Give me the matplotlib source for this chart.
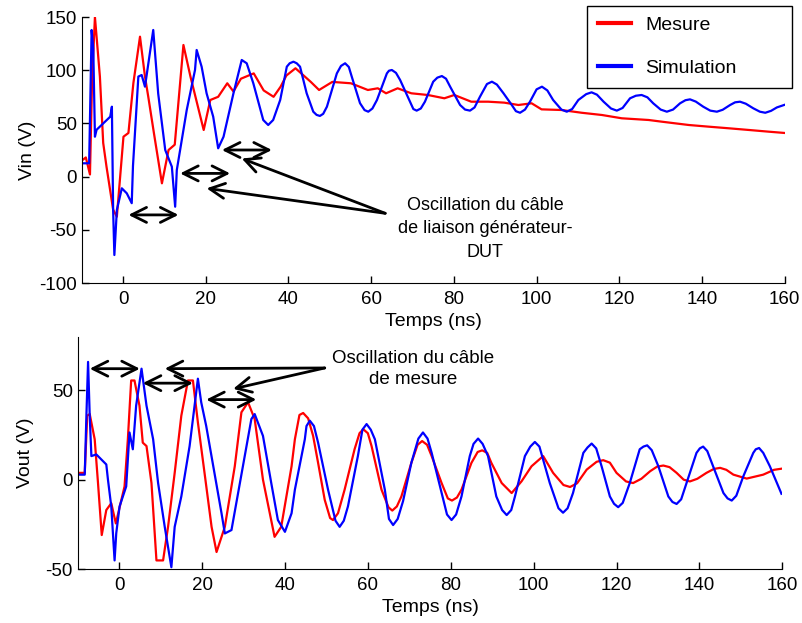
import matplotlib
matplotlib.use("Agg")
import matplotlib.pyplot as plt

plt.rcParams['font.family'] = ['Liberation Sans', 'DejaVu Sans']
plt.rcParams['font.size'] = 13.5
plt.rcParams['axes.unicode_minus'] = False

# ---- top plot: Vin ----
vin_mes_t = [-10, -9, -8, -7.5, -6.8, -5.6, -4.8, -4, -2.4, -1.5, 0.1, 1.3, 2.5, 4.1, 5.3, 6.1,
             7.5, 9.4, 11, 12.5, 14.6, 16.3, 19.5, 21.1, 23, 25.2, 26.7, 28.5, 31.6, 34, 36.4, 38.1,
             39.5, 41.7, 45.4, 47.4, 50.6, 55.1, 59.2, 61.6, 63.6, 66.4, 69.7, 73.7, 77.7, 80.1,
             84.2, 88.3, 92.2, 95.6, 98.8, 101.2, 106, 110.9, 115.8, 120.6, 127.1, 130.3, 136.8,
             141.7, 146.5, 151.4, 156.2, 160]
vin_mes_v = [15, 18, 2, 90, 150, 94, 31.6, 9.3, -31, -37.7, 37.5, 41, 88, 131.5, 94, 75,
             40, -6.3, 25, 30, 123.7, 94, 43.8, 72, 75, 87.7, 80, 92, 97, 81, 75, 84.5,
             95, 101.8, 89, 81.4, 89, 87.7, 81.4, 83, 78.3, 83, 78.3, 76.7, 73.6, 76.7,
             70.4, 70.4, 69.5, 67.3, 68.9, 63.2, 62.6, 60, 57.9, 54.8, 53.2, 51.6, 48.5,
             46.9, 45.4, 43.8, 42.2, 41]

vin_sim_t = [-10, -8.2, -7.6, -7.2, -6.8, -6.4, -3.1, -2.7, -2.4, -2.1, -1.5, -0.3, 0.9, 2.1, 2.4,
             3.7, 4.5, 5.3, 7.3, 8.5, 10.2, 11.8, 12.6, 13, 15.4, 17.4, 17.8, 19, 20.2, 21.8, 23,
             24.3, 26.7, 28.7, 29.9, 31.5, 33.9, 35.1, 36.3,
             38, 39.6, 40.3, 41.2, 42, 42.8, 44.4, 46, 46.8, 47.6, 48.4, 49.3, 51.7, 52.7, 53.7,
             54.6, 55.3, 57.3, 58.4, 59.3, 60.3, 61.4, 63.8, 64.3, 65, 66, 67, 69.4, 70.2, 71,
             72, 73, 75, 76, 77.1, 78.1, 79.1, 81.5, 82.7, 83.9, 85, 86.3, 88, 89.2, 90.4, 92,
             94, 95, 96, 97.2, 98.4, 100, 101.3, 102.6, 104, 106, 107.3, 108.6, 110.1, 112,
             113.3, 114.6, 116.2, 118, 119.4, 120.8, 122.6, 124, 125.4, 126.8, 128.2, 130,
             131.5, 133, 134.7, 136, 137.1, 138.5, 140.3, 142, 143.6, 145, 146.8, 148, 149.2,
             150.6, 152.4, 154, 155.3, 156.7, 158.1, 160]
vin_sim_v = [12.5, 12.5, 137.8, 120, 37.5, 44, 56.3, 65.7, -31.4, -73.7, -31.4, -11, -15.7, -25, 10,
             94, 95.5, 84.5, 137.8, 78, 25, 9.3, -28.3, 6.2, 62.6, 100.2, 119, 103.3, 78.3, 56.3, 26.6,
             37.5, 78.3, 109.6, 106.5, 87.7, 53.2, 48.5, 53.2,
             72, 103.3, 106.5, 108, 106.5, 103.3, 78.3, 61, 58, 57, 59, 65.7, 97, 104, 106.5,
             103, 94, 69, 62.5, 61, 64, 72, 97, 99.5, 100.2, 97.5, 90.8, 70.4, 63.5, 62,
             64, 70.4, 89.2, 93, 94.5, 92, 84.5, 67.3, 63, 62, 65, 75, 87, 89.2, 86.5, 78.3,
             67.3, 61.5, 60, 63, 70.4, 82, 84.5, 81, 72, 63, 61, 63.5, 72, 77.5,
             79.2, 77, 70.4, 64, 62, 64.5, 73.6, 76, 76.7, 74.5, 68.9, 63,
             61, 63, 68.9, 71.8, 72.6, 70.5, 65.7, 62, 61, 62.8, 67.3, 69.8, 70.4,
             68.5, 64.2, 61, 60, 61.8, 65, 67.5]

# ---- bottom plot: Vout ----
vout_mes_t = [-10, -8.3, -7.7, -7.1, -5.9, -5.1, -4.2, -3.1, -1.9, -0.8, 1.3, 2.1, 2.9, 3.7, 4.9,
              5.7, 6.6, 7.8, 9, 10.6, 11.8, 13.4, 15, 16.6, 17.8, 19, 20.6, 22.3, 23.5, 25.5,
              27.9, 29.5, 31.1, 32.7, 34.7, 37.5, 39.1, 41.6,
              42.4, 43.5, 44.4, 45.6, 46.8, 48, 49.6, 50.9, 51.6, 52.8, 54.4, 56.8, 58, 58.9, 60,
              60.9, 63.3, 65, 65.9, 67, 68.1, 70.5, 72, 73.1, 74.3, 75.4, 77.8, 79.3, 80.3, 81.5,
              82.6, 85, 86.5, 87.6, 88.8, 89.8, 92.3, 94.7, 97.1, 99.5, 102.3,
              104.7, 107.2, 108.8, 110.5, 112.8, 115.2, 116.8, 118.4, 120, 122.3, 124, 126, 128.1,
              129.8, 131.3, 132.8, 134.5, 136.2, 137.7, 139.5, 141.7, 143.5, 145, 146.5, 148.2,
              151.4, 155.4, 158, 160]
vout_mes_v = [3.8, 3.8, 35.8, 36.7, 22.6, -1.9, -31, -17, -13.2, -24.5, -3.8, 22.6, 55.5, 55.5, 41.4,
              20.7, 18.8, -1.9, -45.2, -45.2, -26.4, 3.8, 35.8, 55.5, 55.5, 32, 3.8, -26.4, -40.5, -26.4,
              7.5, 37.7, 43.3, 33.9, 0, -32, -26.4, 7.5,
              22.6, 36.2, 37.3, 34.3, 24.5, 9.4, -11.3, -21.5, -22.6, -18.8, -5.6, 17, 26, 28.2, 26,
              18.8, -5.6, -15.5, -17.3, -15, -9.4, 9.4, 19.5, 21.6, 19.5, 13.2, -1.9, -10.5, -11.7, -10,
              -5.6, 9.4, 15.5, 16.4, 15, 9.4, -1.9, -7.5, -0.9, 7.5, 13.2,
              3.8, -3, -4.1, -2, 5.6, 10, 10.9, 9.5, 3.8, -1, -1.9, 0.5, 4.7,
              7.3, 7.9, 7, 3.8, 0, -1, 0.5, 3.8, 6, 6.6, 5.5, 2.8,
              0.6, 2.8, 5.5, 6.2]

vout_sim_t = [-10, -8.3, -7.9, -7.5, -7.1, -6.7, -5.5, -3.1, -2.7, -1.9, -1.1, -0.7, 0.1, 1.7, 2.5,
              3.3, 4.1, 5.4, 6.6, 8.2, 9.4, 11, 12.6, 13.4, 15, 17, 18.2, 19, 19.8, 21, 23,
              24.7, 25.5, 27.1, 28.7, 30.3, 31.9, 32.7, 34.7, 36.7, 38.3, 40, 41.6,
              42.4, 44.8, 45.2, 46, 47, 48, 50.4, 52.2, 53.2, 54.2, 55.2, 57.6, 58.7, 59.7, 60.7,
              61.7, 64.1, 65.1, 66.1, 67.2, 68.5, 70.5, 72.2, 73.3, 74.4, 75.4, 77.8, 79.1, 80.2,
              81.3, 82.6, 84.6, 85.5, 86.6, 87.7, 89, 91, 92.4, 93.5, 94.6, 95.5, 97.9, 99.2,
              100.3, 101.4, 103.9, 106, 107.1, 108.2, 109.5, 112, 113, 114, 115.1, 116.4, 118.4,
              119.4, 120.4, 121.5, 123.2, 125.6, 126.5, 127.4, 128.5, 130.1, 132.5, 133.5, 134.5,
              135.6, 136.9, 139.3, 140.1, 140.9, 141.9, 143.3, 145.8, 146.8, 147.8, 148.9, 150.6,
              153, 153.6, 154.4, 155.4, 157, 159.8]
vout_sim_v = [2.8, 2.8, 35.8, 65.9, 35.8, 13.2, 14.1, 8.5, 0, -15, -45.2, -30, -15, -3.8, 26.4,
              17, 41.4, 62.1, 41.4, 22.6, -1.9, -26.4, -49, -26.4, -9.4, 18.8, 41.4, 56.5, 43.3, 30.1, 3.8,
              -18.8, -30.1, -28.2, -7.5, 13.2, 33.9, 36.7, 24.5, -1.9, -22.6, -29.2, -18.8,
              -5.6, 22.6, 30, 33, 30, 20.7, -5.6, -23, -26.4, -23, -15, 13.2, 28, 31.1, 28,
              22.6, -5.6, -22, -25.4, -22, -12, 9.4, 23, 26.4, 23, 15, -7.5, -19.5, -22.6,
              -19.5, -9.4, 13.2, 20, 23, 20, 13.2, -9.4, -17, -19.8, -17, -9.4, 13.2, 18.5,
              21.1, 18.5, -1.9, -16, -18.5, -16, -7.5, 15, 18, 20.2, 17.5, 7.5, -9.4,
              -13.5, -15.4, -13, -1.9, 17, 18.5, 19.2, 16.5, 7.5, -9.4, -12.5, -13.6,
              -11, -1.9, 15, 17.5, 18.5, 16, 7.5, -7.5, -10.5, -11.7, -9, 1.9,
              15, 17, 17.7, 15, 7.5, -7.9]

W, H = 803, 623
fig = plt.figure(figsize=(W / 100, H / 100), dpi=100)

ax1 = fig.add_axes([81.7 / W, 1 - 283 / H, 703 / W, 266 / H])
ax2 = fig.add_axes([77.7 / W, 1 - 569 / H, 704.6 / W, 232.3 / H])

for ax in (ax1, ax2):
    ax.spines['top'].set_visible(False)
    ax.spines['right'].set_visible(False)
    ax.tick_params(direction='in', length=5, width=1, labelsize=13.5)
    ax.tick_params(axis='x', pad=6)
    ax.set_xlim(-10, 160)
    ax.set_xticks(range(0, 161, 20))
    ax.set_xlabel('Temps (ns)', fontsize=14, labelpad=3)

l1, = ax1.plot(vin_mes_t, vin_mes_v, color='red', lw=1.6)
l2, = ax1.plot(vin_sim_t, vin_sim_v, color='blue', lw=1.6)
ax1.set_ylim(-100, 150)
ax1.set_yticks(range(-100, 151, 50))
ax1.set_ylabel('Vin (V)', fontsize=14, labelpad=2)

ax2.plot(vout_mes_t, vout_mes_v, color='red', lw=1.6)
ax2.plot(vout_sim_t, vout_sim_v, color='blue', lw=1.6)
ax2.set_ylim(-50, 80)
ax2.set_yticks([-50, 0, 50])
ax2.set_ylabel('Vout (V)', fontsize=14, labelpad=8)

leg = ax1.legend([l1, l2], ['Mesure', 'Simulation'],
                 bbox_to_anchor=(587 / W, 1 - 82 / H, 205 / W, 76 / H),
                 bbox_transform=fig.transFigure, loc='upper left', mode='expand',
                 borderaxespad=0, fancybox=False, edgecolor='black', framealpha=1,
                 fontsize=14, handlelength=1.7, handletextpad=0.75, labelspacing=1.3,
                 borderpad=0.55)
leg.get_frame().set_linewidth(1.0)
for h in leg.get_lines():
    h.set_linewidth(3)

dbl = dict(arrowstyle='<->,head_length=0.8,head_width=0.4', color='black', lw=2,
           shrinkA=0, shrinkB=0)
one = dict(arrowstyle='->,head_length=0.8,head_width=0.4', color='black', lw=2,
           shrinkA=0, shrinkB=0)

# top arrows
for (xa, xb, y) in [(1.3, 13.4, -36), (13.8, 25.9, 3), (23.9, 36.0, 25)]:
    ax1.annotate('', xy=(xa, y), xytext=(xb, y), arrowprops=dbl)
for (xh, yh) in [(20.2, -11), (28.7, 17)]:
    ax1.annotate('', xy=(xh, yh), xytext=(63.4, -34.5), arrowprops=one)
ax1.text(87.5, -49.2, 'Oscillation du câble\nde liaison générateur-\nDUT',
         ha='center', va='center', fontsize=13, linespacing=1.5)

# bottom arrows
for (xa, xb, y) in [(-7.1, 5.0, 62.1), (5.7, 17.8, 54), (21.0, 33.1, 44.8)]:
    ax2.annotate('', xy=(xa, y), xytext=(xb, y), arrowprops=dbl)
for (xh, yh) in [(11.0, 62.1), (27.5, 50.8)]:
    ax2.annotate('', xy=(xh, yh), xytext=(49.6, 62.5), arrowprops=one)
ax2.text(70.9, 61.9, 'Oscillation du câble\nde mesure',
         ha='center', va='center', fontsize=13.5, linespacing=1.3)

fig.savefig('out.png', dpi=100)
